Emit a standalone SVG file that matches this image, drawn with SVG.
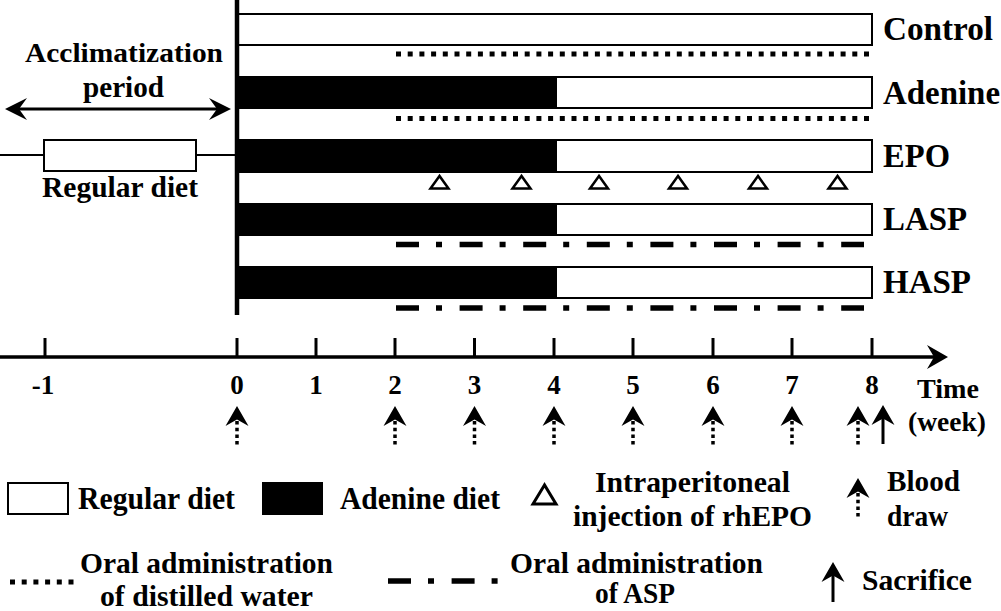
<svg xmlns="http://www.w3.org/2000/svg" width="1001" height="611" viewBox="0 0 1001 611">
<style>
text{font-family:'Liberation Serif','Times New Roman','DejaVu Serif',Times,serif;font-weight:bold;fill:#000}
.g{font-size:33px}
.t{font-size:29px}
.n{font-size:27px;text-anchor:middle}
.bar{fill:#fff;stroke:#000;stroke-width:2}
.blk{fill:#000}
.dot{stroke:#000;stroke-width:5;stroke-dasharray:5 6.7;fill:none}
.dd{stroke:#000;stroke-width:5.5;stroke-dasharray:23 17 6 17.6;fill:none}
.ln{stroke:#000;fill:none}
.tri{fill:#fff;stroke:#000;stroke-width:2.5;stroke-linejoin:miter}
.bd{stroke:#000;stroke-width:3.5;stroke-dasharray:3.5 3.2;fill:none}
</style>
<defs>
<path id="head" d="M0,0 L-11.5,20 L0,13.5 L11.5,20 Z" fill="#000"/>
</defs>
<rect width="1001" height="611" fill="#fff"/>
<g font-family="Liberation Serif, Times New Roman, DejaVu Serif, serif" font-weight="bold">

<g id="acclimatization">
<line class="ln" x1="12" y1="109" x2="224" y2="109" stroke-width="3"/>
<path d="M5,109 L27,98 L19,109 L27,120 Z" fill="#000"/>
<path d="M231,109 L209,98 L217,109 L209,120 Z" fill="#000"/>
<text x="25" y="62" style="font-size:28px" textLength="198" lengthAdjust="spacingAndGlyphs">Acclimatization</text>
<text x="83" y="97" class="t" textLength="81" lengthAdjust="spacingAndGlyphs">period</text>
<line class="ln" x1="0" y1="155" x2="43" y2="155" stroke-width="2"/>
<line class="ln" x1="196" y1="155" x2="237" y2="155" stroke-width="2"/>
<rect class="bar" x="44" y="140" width="152" height="31"/>
<text x="42" y="197" class="t" textLength="156" lengthAdjust="spacingAndGlyphs">Regular diet</text>
</g>

<g id="control">
<rect class="bar" x="238" y="14" width="634" height="31"/>
<text x="883" y="40" class="g" textLength="110" lengthAdjust="spacingAndGlyphs">Control</text>
</g>
<g id="adenine">
<rect class="bar" x="238" y="77" width="634" height="31"/>
<rect class="blk" x="238" y="76" width="319" height="33"/>
<text x="883" y="104" class="g" textLength="117" lengthAdjust="spacingAndGlyphs">Adenine</text>
</g>
<g id="epo">
<rect class="bar" x="238" y="140" width="634" height="32"/>
<rect class="blk" x="238" y="139" width="319" height="34"/>
<text x="883" y="167" class="g" textLength="67" lengthAdjust="spacingAndGlyphs">EPO</text>
</g>
<g id="lasp">
<rect class="bar" x="238" y="204" width="634" height="31"/>
<rect class="blk" x="238" y="203" width="319" height="33"/>
<text x="883" y="230" class="g" textLength="84" lengthAdjust="spacingAndGlyphs">LASP</text>
</g>
<g id="hasp">
<rect class="bar" x="238" y="267" width="634" height="31"/>
<rect class="blk" x="238" y="266" width="319" height="33"/>
<text x="883" y="293" class="g" textLength="88" lengthAdjust="spacingAndGlyphs">HASP</text>
</g>

<g id="treatments">
<line class="dot" x1="396" y1="54" x2="873" y2="54"/>
<line class="dot" x1="396" y1="118.5" x2="873" y2="118.5"/>
<line class="dd" x1="396" y1="244.5" x2="864" y2="244.5"/>
<line class="dd" x1="396" y1="308" x2="864" y2="308"/>
<path class="tri" d="M439.5,176 L430.5,188.5 L448.5,188.5 Z"/>
<path class="tri" d="M521.5,176 L512.5,188.5 L530.5,188.5 Z"/>
<path class="tri" d="M599,176 L590,188.5 L608,188.5 Z"/>
<path class="tri" d="M678,176 L669,188.5 L687,188.5 Z"/>
<path class="tri" d="M758,176 L749,188.5 L767,188.5 Z"/>
<path class="tri" d="M837.5,176 L828.5,188.5 L846.5,188.5 Z"/>
</g>

<g id="connectors">
<line class="ln" x1="237" y1="0" x2="237" y2="315" stroke-width="4.5"/>
<line class="ln" x1="0" y1="357" x2="938" y2="357" stroke-width="3.5"/>
<path d="M948,357 L927,345 L934,357 L927,369 Z" fill="#000"/>
<g class="ln" stroke-width="3">
<line x1="45" y1="338" x2="45" y2="357"/>
<line x1="237" y1="338" x2="237" y2="357"/>
<line x1="316" y1="338" x2="316" y2="357"/>
<line x1="395" y1="338" x2="395" y2="357"/>
<line x1="474.5" y1="338" x2="474.5" y2="357"/>
<line x1="554" y1="338" x2="554" y2="357"/>
<line x1="633" y1="338" x2="633" y2="357"/>
<line x1="713" y1="338" x2="713" y2="357"/>
<line x1="792" y1="338" x2="792" y2="357"/>
<line x1="872" y1="338" x2="872" y2="357"/>
</g>
<use href="#head" x="237" y="406"/><line class="bd" x1="237" y1="421" x2="237" y2="446"/>
<use href="#head" x="395" y="406"/><line class="bd" x1="395" y1="421" x2="395" y2="446"/>
<use href="#head" x="474.5" y="406"/><line class="bd" x1="474.5" y1="421" x2="474.5" y2="446"/>
<use href="#head" x="554" y="406"/><line class="bd" x1="554" y1="421" x2="554" y2="446"/>
<use href="#head" x="633" y="406"/><line class="bd" x1="633" y1="421" x2="633" y2="446"/>
<use href="#head" x="713" y="406"/><line class="bd" x1="713" y1="421" x2="713" y2="446"/>
<use href="#head" x="792" y="406"/><line class="bd" x1="792" y1="421" x2="792" y2="446"/>
<use href="#head" x="858" y="406"/><line class="bd" x1="858" y1="421" x2="858" y2="446"/>
<use href="#head" x="883" y="405"/><line class="ln" x1="883" y1="416" x2="883" y2="444" stroke-width="3"/>
</g>

<g id="axis-labels">
<text class="n" x="43" y="394">-1</text>
<text class="n" x="237" y="394">0</text>
<text class="n" x="316" y="394">1</text>
<text class="n" x="395" y="394">2</text>
<text class="n" x="474.5" y="394">3</text>
<text class="n" x="554" y="394">4</text>
<text class="n" x="633" y="394">5</text>
<text class="n" x="713" y="394">6</text>
<text class="n" x="792" y="394">7</text>
<text class="n" x="872" y="394">8</text>
<text x="917" y="398" style="font-size:28px" textLength="62" lengthAdjust="spacingAndGlyphs">Time</text>
<text x="908" y="431" style="font-size:28px" textLength="78" lengthAdjust="spacingAndGlyphs">(week)</text>
</g>

<g id="legend">
<rect class="bar" x="8" y="483" width="60" height="31"/>
<text x="78" y="509" style="font-size:31px" textLength="157" lengthAdjust="spacingAndGlyphs">Regular diet</text>
<rect class="blk" x="262" y="482" width="61" height="33"/>
<text x="340" y="509" style="font-size:31px" textLength="160" lengthAdjust="spacingAndGlyphs">Adenine diet</text>
<path d="M544.5,485 L533,504 L556,504 Z" fill="#fff" stroke="#000" stroke-width="3"/>
<text x="595" y="492" class="t" textLength="195" lengthAdjust="spacingAndGlyphs">Intraperitoneal</text>
<text x="573" y="526" class="t" textLength="239" lengthAdjust="spacingAndGlyphs">injection of rhEPO</text>
<use href="#head" x="858" y="478"/><line class="bd" x1="858" y1="493" x2="858" y2="518"/>
<text x="887" y="491" class="t" textLength="73" lengthAdjust="spacingAndGlyphs">Blood</text>
<text x="887" y="526" class="t" textLength="61" lengthAdjust="spacingAndGlyphs">draw</text>
<line class="dot" x1="10" y1="582" x2="74" y2="582"/>
<text x="80" y="573" class="t" textLength="253" lengthAdjust="spacingAndGlyphs">Oral administration</text>
<text x="100" y="606" class="t" textLength="213" lengthAdjust="spacingAndGlyphs">of distilled water</text>
<line class="dd" x1="388" y1="581" x2="498" y2="581"/>
<text x="510" y="573" class="t" textLength="253" lengthAdjust="spacingAndGlyphs">Oral administration</text>
<text x="595" y="603" class="t" textLength="80" lengthAdjust="spacingAndGlyphs">of ASP</text>
<use href="#head" x="833" y="562"/><line class="ln" x1="833" y1="573" x2="833" y2="602" stroke-width="3"/>
<text x="862" y="590" class="t" textLength="110" lengthAdjust="spacingAndGlyphs">Sacrifice</text>
</g>
</g>
</svg>
